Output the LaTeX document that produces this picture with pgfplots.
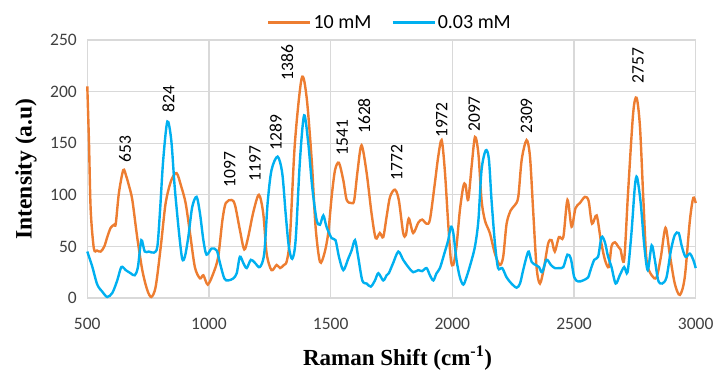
\documentclass[border=0pt]{standalone}
\usepackage{fontspec}
\setmainfont{Carlito}
\newfontfamily\lblfont{Liberation Serif}
\usepackage{pgfplots}
\pgfplotsset{compat=1.18}
\definecolor{corange}{HTML}{ED7D31}
\definecolor{cblue}{HTML}{00B0F0}
\definecolor{gridc}{HTML}{D9D9D9}
\definecolor{tickc}{HTML}{404040}
\tikzset{peak/.style={rotate=90, anchor=west, inner sep=0pt, font=\fontsize{17.5bp}{20bp}\selectfont, text=black}}

\begin{document}
\begin{tikzpicture}
\begin{axis}[
  name=ax,
  scale only axis,
  width=608.4bp, height=258bp,
  xmin=500, xmax=3000, ymin=0, ymax=250,
  xtick={500,1000,1500,2000,2500,3000},
  ytick={0,50,100,150,200,250},
  grid=major,
  major grid style={draw=gridc, line width=1.2bp},
  axis line style={draw=gridc, line width=1.2bp},
  major tick length=0pt,
  tick label style={font=\fontsize{17.5bp}{20bp}\selectfont, text=tickc},
  /pgf/number format/assume math mode=true,
  /pgf/number format/1000 sep={},
  xticklabel style={yshift=-17bp},
  yticklabel style={xshift=-7bp},
  clip=false,
  xlabel={\lblfont\bfseries Raman Shift (cm\textsuperscript{-1})},
  xlabel style={at={(axis description cs:0.510,-0.2597)}, anchor=base, font=\fontsize{23bp}{27bp}\selectfont},
  ylabel={\lblfont\bfseries Intensity (a.u)},
  ylabel style={at={(axis description cs:-0.0917,0.5)}, anchor=base, font=\fontsize{23.5bp}{27bp}\selectfont},
  legend columns=2,
  legend style={at={(axis description cs:0.4975,1.068)}, anchor=center, draw=none, fill=none,
    font=\fontsize{20bp}{22bp}\selectfont, text=black,
    /tikz/every even column/.append style={column sep=18bp}},
  legend image code/.code={\draw[#1] (0bp,0bp) -- (42bp,0bp);},
  every axis plot/.append style={line width=2.4bp, smooth},
]
\addplot[corange] table {
500 205
507 150
514 85
527 48
540 46
555 45
570 50
582 59
596 68
610 71
617 72
630 102
648 124
660 118
671 109
685 95
705 59
726 27
746 8
763 1
781 11
802 50
822 92
845 114
867 121
886 108
904 92
922 63
942 30
963 19
977 22
995 13
1018 24
1038 40
1055 75
1069 92
1093 95
1107 90
1127 66
1145 47
1161 59
1182 83
1205 100
1223 82
1237 43
1257 27
1278 32
1292 29
1308 32
1320 36
1333 60
1353 150
1381 213
1401 195
1422 134
1438 69
1456 35
1474 43
1490 63
1504 98
1518 124
1534 131
1552 114
1566 95
1586 92
1597 95
1611 124
1627 148
1648 121
1668 82
1685 58
1702 63
1716 59
1730 79
1744 98
1764 105
1780 95
1798 63
1809 61
1821 77
1839 63
1860 73
1876 76
1894 72
1908 76
1928 111
1942 137
1956 153
1969 124
1983 72
1994 37
2004 32
2017 50
2031 85
2045 108
2054 110
2065 95
2079 127
2093 156
2107 140
2120 95
2134 75
2154 63
2175 43
2195 32
2209 40
2223 72
2240 85
2257 90
2271 98
2285 134
2305 153
2319 137
2332 85
2346 30
2360 14
2377 30
2394 53
2408 56
2421 45
2438 59
2456 59
2473 95
2490 69
2506 87
2524 92
2545 98
2560 94
2574 72
2593 80
2610 56
2627 37
2643 30
2654 50
2668 54
2681 50
2691 47
2706 37
2722 102
2743 179
2757 194
2771 166
2785 95
2798 37
2819 22
2839 20
2857 40
2876 68
2893 43
2914 14
2935 3
2955 20
2976 75
2990 97
3000 92
};
\addlegendentry{10 mM}
\addplot[cblue] table {
500 45
510 38
521 30
541 13
562 6
582 1
603 5
623 17
640 30
658 27
678 24
695 22
708 30
722 56
736 45
753 45
774 44
788 50
799 85
812 134
829 171
845 153
859 108
877 63
890 38
901 40
915 59
931 88
949 98
963 82
977 56
990 42
1011 48
1032 46
1045 34
1063 19
1079 17
1100 19
1114 24
1127 40
1141 34
1155 29
1172 37
1189 34
1209 30
1227 43
1241 92
1257 124
1282 137
1301 121
1315 82
1328 50
1342 38
1356 56
1374 134
1391 177
1408 150
1424 108
1442 76
1456 71
1470 80
1483 69
1504 58
1520 56
1534 40
1552 27
1572 38
1586 46
1600 56
1613 40
1630 17
1648 14
1665 11
1682 17
1696 24
1716 17
1730 22
1739 24
1757 34
1778 45
1798 37
1819 30
1839 25
1860 27
1876 26
1894 29
1908 22
1922 17
1935 24
1949 29
1967 43
1983 56
1994 69
2004 63
2017 37
2031 20
2045 13
2058 20
2076 34
2093 50
2107 75
2120 124
2137 143
2150 135
2161 95
2175 53
2188 29
2205 29
2223 20
2243 14
2264 10
2278 14
2291 27
2305 40
2314 45
2326 35
2342 32
2356 30
2369 25
2387 37
2405 32
2421 29
2438 29
2456 30
2473 42
2487 38
2501 20
2517 16
2537 17
2558 20
2565 25
2583 37
2599 40
2613 59
2627 54
2640 40
2654 30
2671 14
2688 22
2706 30
2720 25
2736 63
2750 108
2759 117
2774 92
2789 50
2803 27
2819 51
2832 37
2846 17
2862 14
2880 20
2898 46
2914 61
2930 63
2943 50
2958 40
2976 43
2990 37
3000 29
};
\addlegendentry{0.03 mM}
\node[peak] at (axis cs:655,131) {653};
\node[peak] at (axis cs:833,180) {824};
\node[peak] at (axis cs:1085,107) {1097};
\node[peak] at (axis cs:1189,113) {1197};
\node[peak] at (axis cs:1274,143) {1289};
\node[peak] at (axis cs:1321,211) {1386};
\node[peak] at (axis cs:1548,138) {1541};
\node[peak] at (axis cs:1638,159) {1628};
\node[peak] at (axis cs:1771,114) {1772};
\node[peak] at (axis cs:1956,155) {1972};
\node[peak] at (axis cs:2090,161) {2097};
\node[peak] at (axis cs:2305,159) {2309};
\node[peak] at (axis cs:2763,208) {2757};
\end{axis}
\pgfresetboundingbox
\path[use as bounding box] ([xshift=-87.3bp,yshift=-75bp]ax.south west) rectangle ([xshift=19.3bp,yshift=40bp]ax.north east);
\end{tikzpicture}
\end{document}
